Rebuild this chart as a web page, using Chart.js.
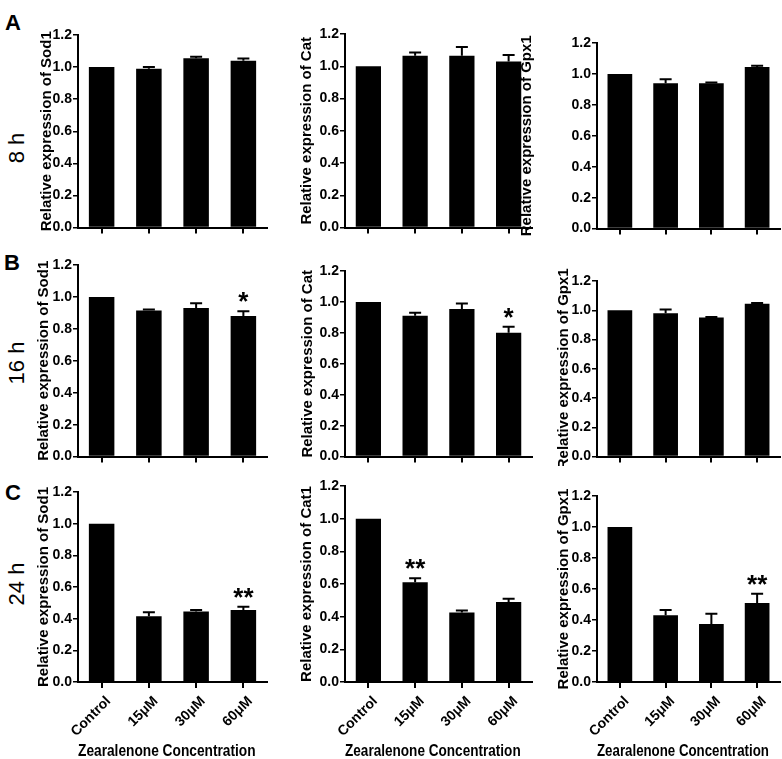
<!DOCTYPE html>
<html>
<head>
<meta charset="utf-8">
<script src="https://cdn.jsdelivr.net/npm/chart.js@4.4.0/dist/chart.umd.min.js"></script>
<style>
body { margin:0; background:#fff; width:782px; height:759px; overflow:hidden; position:relative; font-family:"Liberation Sans", Arial, sans-serif; }
canvas { position:absolute; }
.lab { position:absolute; font-weight:bold; font-size:22px; line-height:22px; }
.row { position:absolute; width:80px; height:30px; line-height:30px; text-align:center; font-size:22px; transform:rotate(-90deg); }
</style>
</head>
<body>
<div class="lab" style="left:5px;top:12px">A</div>
<div class="lab" style="left:4px;top:252px">B</div>
<div class="lab" style="left:5px;top:482px">C</div>
<div class="row" style="left:-23px;top:133px">8 h</div>
<div class="row" style="left:-23px;top:348px">16 h</div>
<div class="row" style="left:-23px;top:569px">24 h</div>
<script>
// categories
var categories = ['Control', '15μM', '30μM', '60μM'];

// 8 h
var sod1_8h = [1.00, 0.99, 1.055, 1.04];
var sod1_8h_err = [0, 0.01, 0.01, 0.013];
var cat_8h = [1.00, 1.065, 1.065, 1.03];
var cat_8h_err = [0, 0.02, 0.055, 0.04];
var gpx1_8h = [1.00, 0.94, 0.94, 1.045];
var gpx1_8h_err = [0, 0.025, 0.004, 0.008];

// 16 h
var sod1_16h = [1.00, 0.915, 0.93, 0.88];
var sod1_16h_err = [0, 0.006, 0.03, 0.03];
var cat_16h = [1.00, 0.91, 0.955, 0.80];
var cat_16h_err = [0, 0.02, 0.035, 0.04];
var gpx1_16h = [1.00, 0.98, 0.95, 1.045];
var gpx1_16h_err = [0, 0.025, 0.004, 0.004];

// 24 h
var sod1_24h = [1.00, 0.415, 0.445, 0.455];
var sod1_24h_err = [0, 0.025, 0.01, 0.02];
var cat1_24h = [1.00, 0.61, 0.425, 0.49];
var cat1_24h_err = [0, 0.025, 0.012, 0.02];
var gpx1_24h = [1.00, 0.43, 0.375, 0.51];
var gpx1_24h_err = [0, 0.035, 0.065, 0.06];

// significance marks
var noSig = ['', '', '', ''];
var sod1_16h_sig = ['', '', '', '*'];
var cat_16h_sig = ['', '', '', '*'];
var sod1_24h_sig = ['', '', '', '**'];
var cat1_24h_sig = ['', '**', '', ''];
var gpx1_24h_sig = ['', '', '', '**'];

var yMin = 0, yMax = 1.2, yStep = 0.2;
var xTitle = 'Zearalenone Concentration\u00a0\u00a0\u00a0';

var panels = [
    {vals: sod1_8h, err: sod1_8h_err, sig: noSig, title: 'Relative expression of Sod1', L: 78, R: 267, T: 35, B: 229, tx: 47, last: false},
    {vals: cat_8h, err: cat_8h_err, sig: noSig, title: 'Relative expression of Cat', L: 345, R: 532, T: 34, B: 229, tx: 307, last: false},
    {vals: gpx1_8h, err: gpx1_8h_err, sig: noSig, title: 'Relative expression of Gpx1', L: 597, R: 780, T: 43, B: 230, tx: 527, last: false},
    {vals: sod1_16h, err: sod1_16h_err, sig: sod1_16h_sig, title: 'Relative expression of Sod1', L: 78, R: 267, T: 265, B: 458, tx: 44, last: false},
    {vals: cat_16h, err: cat_16h_err, sig: cat_16h_sig, title: 'Relative expression of Cat', L: 345, R: 532, T: 271, B: 458, tx: 308, last: false},
    {vals: gpx1_16h, err: gpx1_16h_err, sig: noSig, title: 'Relative expression of Gpx1', L: 597, R: 780, T: 281, B: 458, tx: 564, last: false},
    {vals: sod1_24h, err: sod1_24h_err, sig: sod1_24h_sig, title: 'Relative expression of Sod1', L: 78, R: 267, T: 492, B: 682, tx: 44, last: true},
    {vals: cat1_24h, err: cat1_24h_err, sig: cat1_24h_sig, title: 'Relative expression of Cat1', L: 345, R: 532, T: 486, B: 682, tx: 307, last: true},
    {vals: gpx1_24h, err: gpx1_24h_err, sig: gpx1_24h_sig, title: 'Relative expression of Gpx1', L: 597, R: 780, T: 496, B: 682, tx: 564, last: true}
];

Chart.defaults.font.family = "'Liberation Sans', Arial, sans-serif";
Chart.defaults.color = '#000';

// error bars (upper only) and stars
var errStars = {
    id: 'errStars',
    afterDatasetsDraw(chart) {
        var ctx = chart.ctx;
        var ds = chart.data.datasets[0];
        var ys = chart.scales.y;
        chart.getDatasetMeta(0).data.forEach((bar, i) => {
            var topV = ds.data[i] + ds.errors[i];
            var yTop = ys.getPixelForValue(topV);
            ctx.save();
            ctx.strokeStyle = '#000';
            ctx.lineWidth = 2;
            if (ds.errors[i] > 0) {
                ctx.beginPath();
                ctx.moveTo(bar.x, bar.y);
                ctx.lineTo(bar.x, yTop);
                ctx.moveTo(bar.x - 6, yTop);
                ctx.lineTo(bar.x + 6, yTop);
                ctx.stroke();
            }
            if (ds.stars[i]) {
                ctx.fillStyle = '#000';
                ctx.font = "bold 26px 'Liberation Sans', Arial";
                ctx.textAlign = 'center';
                ctx.textBaseline = 'alphabetic';
                ctx.fillText(ds.stars[i], bar.x, yTop - 1);
            }
            ctx.restore();
        });
    }
};

panels.forEach(p => {
    var yW = 90;
    var left = p.L - yW, top = p.T - 14;
    var right = p.R + 2;
    var bottom = p.last ? 759 : p.B + 8;
    var cv = document.createElement('canvas');
    cv.width = right - left;
    cv.height = bottom - top;
    cv.style.left = left + 'px';
    cv.style.top = top + 'px';
    document.body.appendChild(cv);

    new Chart(cv, {
        type: 'bar',
        data: {
            labels: categories,
            datasets: [{
                data: p.vals,
                errors: p.err,
                stars: p.sig,
                backgroundColor: '#000',
                borderWidth: 0,
                barPercentage: 0.54,
                categoryPercentage: 1
            }]
        },
        options: {
            responsive: false,
            animation: false,
            layout: {padding: {left: 0, top: 14, right: 2, bottom: 0}},
            plugins: {legend: {display: false}, tooltip: {enabled: false}},
            scales: {
                x: {
                    offset: true,
                    grid: {offset: false, drawOnChartArea: false, drawTicks: true, tickLength: 6, color: '#000', lineWidth: 2},
                    border: {display: true, color: '#000', width: 2},
                    ticks: {
                        display: p.last,
                        maxRotation: 45, minRotation: 45,
                        padding: 5,
                        labelOffset: 7,
                        font: {size: 14, weight: 'bold'}
                    },
                    title: {
                        display: p.last,
                        text: xTitle,
                        font: {size: 16, weight: 'bold'},
                        padding: {top: 0, bottom: -2}
                    },
                    afterFit: s => { s.height = bottom - p.B; }
                },
                y: {
                    min: yMin, max: yMax,
                    grid: {drawOnChartArea: false, drawTicks: true, tickLength: 5, color: '#000', lineWidth: 1.5},
                    border: {display: true, color: '#000', width: 2},
                    ticks: {
                        stepSize: yStep,
                        padding: 1,
                        font: {size: 14, weight: 'bold'},
                        callback: v => v.toFixed(1)
                    },
                    title: {
                        display: true,
                        text: p.title,
                        font: {size: 15, weight: 'bold'},
                        padding: {top: p.tx - left - 9, bottom: 0}
                    },
                    afterFit: s => { s.width = yW; }
                }
            }
        },
        plugins: [errStars]
    });
});
</script>
</body>
</html>
